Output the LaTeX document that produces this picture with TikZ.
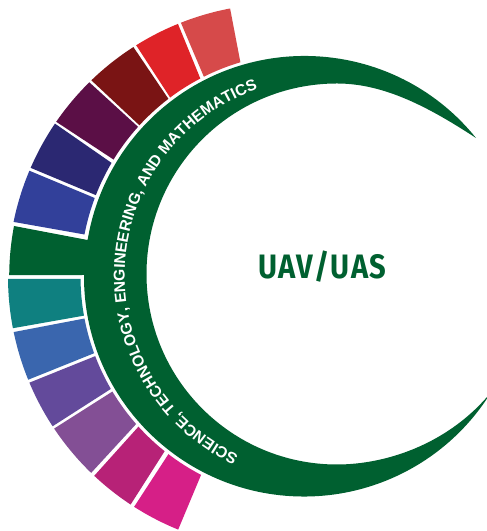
\documentclass[tikz,border=0pt]{standalone}
\usepackage{fontspec}
\setmainfont{Liberation Sans}
\newfontfamily\titlefont[FakeStretch=0.86,LetterSpace=4.6]{Fira Sans}
\usetikzlibrary{decorations.text,calc}
\definecolor{leaf}{HTML}{006030}
\newcommand\seg[9]{%
  \pgfmathsetmacro\aA{atan2(531-#3-254.3,#2-281)}%
  \pgfmathsetmacro\aB{atan2(531-#5-254.3,#4-281)}%
  \pgfmathsetmacro\bB{atan2(531-#7-254.5,#6-304)}%
  \pgfmathsetmacro\bA{atan2(531-#9-254.5,#8-304)}%
  \fill[#1] ($(281,254.3)+(\aA:273bp)$) arc[start angle=\aA,end angle=\aB,radius=273bp]
    -- ($(304,254.5)+(\bB:223.5bp)$) arc[start angle=\bB,end angle=\bA,radius=223.5bp] -- cycle;}
\begin{document}
\begin{tikzpicture}[x=1bp,y=1bp]
\useasboundingbox (0,0) rectangle (487,531);
\fill[white] (0,0) rectangle (487,531);
\def\Seg#1#2#3#4#5#6#7#8#9{\seg{#1}{#2}{#3}{#4}{#5}{#6}{#7}{#8}{#9}}
% upper segments
\definecolor{c1}{HTML}{32409A}\Seg{c1}{14}{222}{30}{171}{92}{197}{82}{234}
\definecolor{c2}{HTML}{2B2872}\Seg{c2}{31}{168}{57}{125}{110}{162}{93}{194}
\definecolor{c3}{HTML}{5B0F46}\Seg{c3}{58}{123}{90}{83}{136}{125}{111}{158}
\definecolor{c4}{HTML}{7A1414}\Seg{c4}{92}{81}{134}{48}{167}{97}{138}{124}
\definecolor{c5}{HTML}{DF2328}\Seg{c5}{136}{45}{178}{24}{199}{76}{169}{96}
\definecolor{c6}{HTML}{D64A4A}\Seg{c6}{181}{23}{230}{8}{240}{61}{203}{75}
% lower segments
\definecolor{d1}{HTML}{0F8080}\Seg{d1}{8}{279}{14}{328}{82}{316}{79}{279}
\definecolor{d2}{HTML}{3A66AE}\Seg{d2}{14}{332}{30}{379}{92}{354}{82}{319}
\definecolor{d3}{HTML}{634A9B}\Seg{d3}{31}{382}{53}{426}{109}{390}{93}{357}
\definecolor{d4}{HTML}{834F95}\Seg{d4}{55}{428}{92}{472}{135}{425}{110}{393}
\definecolor{d5}{HTML}{B72277}\Seg{d5}{95}{475}{131}{504}{164}{452}{137}{428}
\definecolor{d6}{HTML}{D61F87}\Seg{d6}{134}{507}{178}{530}{201}{475}{167}{456}
% crescent
\fill[leaf] (476,393) arc[start angle=38.84,end angle=170.6,radius=220bp]
  -- (14,305) arc[start angle=169.25,end angle=179.64,radius=273bp]
  -- (84,256) arc[start angle=179.6,end angle=326.6,radius=220bp]
  -- (487,134) .. controls (445,86) and (385,66.5) .. (337,66.5)
  arc[start angle=270,end angle=90,radius=190.5bp]
  .. controls (385,447.5) and (430,423) .. (476,393) -- cycle;
% text
\path[postaction={decorate,decoration={text along path,text align=center,
  text={|\fontsize{15.7}{15.7}\selectfont\bfseries\color{white}|SCIENCE, TECHNOLOGY, ENGINEERING, AND MATHEMATICS}}}]
  (322.7,255) ++(245:198bp) arc[start angle=245,end angle=109,radius=198bp];
\node[text=leaf,font=\titlefont\bfseries\fontsize{34}{34}\selectfont,inner sep=0pt] (title) at (322.5,264) {UAV/UAS};
\end{tikzpicture}
\end{document}
